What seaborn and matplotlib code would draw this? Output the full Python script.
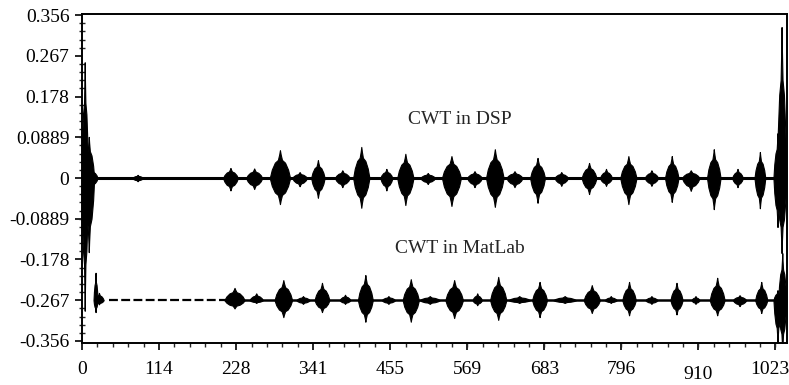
import numpy as np
import pandas as pd
import matplotlib
matplotlib.use('Agg')
import matplotlib.pyplot as plt
import matplotlib.transforms as mtransforms
from matplotlib.ticker import AutoMinorLocator
import seaborn as sns

# CWT computed on the DSP: bursts around the zero line
# (sample index, half width in samples, top value, bottom value)
dsp_center = [4, 10, 15, 82, 219, 254, 292, 321, 348, 384, 412, 449, 477, 510, 545, 579,
              609, 638, 672, 707, 748, 773, 806, 840, 870, 898, 932, 967, 1000, 1026, 1032]
dsp_width = [5, 8, 8, 8, 11, 12, 15, 11, 10, 11, 12, 9, 12, 11, 14, 11,
             13, 12, 11, 10, 11, 9, 12, 10, 10, 13, 10, 8, 8, 6, 7]
dsp_top = [0.253, 0.09, 0.02, 0.007, 0.022, 0.021, 0.061, 0.013, 0.039, 0.017, 0.068, 0.02,
           0.053, 0.011, 0.048, 0.015, 0.063, 0.015, 0.044, 0.013, 0.033, 0.02, 0.048, 0.017,
           0.048, 0.017, 0.063, 0.02, 0.057, 0.098, 0.33]
dsp_bottom = [-0.29, -0.162, -0.02, -0.007, -0.027, -0.024, -0.057, -0.018, -0.043, -0.02, -0.065,
              -0.027, -0.059, -0.013, -0.061, -0.02, -0.063, -0.02, -0.054, -0.017, -0.035, -0.017,
              -0.057, -0.017, -0.052, -0.028, -0.068, -0.02, -0.066, -0.107, -0.164]
dsp_level = 0.0

# CWT computed in MatLab, drawn around -0.267
mat_center = [20, 25, 225, 257, 297, 326, 354, 388, 418, 452, 485, 513, 549, 583, 614, 645,
              675, 712, 752, 780, 807, 840, 877, 905, 937, 970, 1002, 1026, 1033]
mat_width = [3, 7, 15, 10, 13, 10, 11, 8, 11, 10, 12, 15, 13, 7, 12, 16,
             11, 17, 12, 9, 10, 9, 9, 6, 11, 10, 9, 6, 6]
mat_top = [-0.207, -0.251, -0.240, -0.252, -0.223, -0.258, -0.229, -0.255, -0.212, -0.258, -0.221,
           -0.258, -0.223, -0.252, -0.216, -0.258, -0.227, -0.258, -0.234, -0.258, -0.227, -0.258,
           -0.229, -0.258, -0.218, -0.256, -0.227, -0.245, -0.164]
mat_bottom = [-0.293, -0.276, -0.285, -0.273, -0.304, -0.275, -0.293, -0.275, -0.314, -0.275, -0.314,
              -0.275, -0.306, -0.278, -0.310, -0.273, -0.304, -0.273, -0.295, -0.273, -0.300, -0.275,
              -0.298, -0.275, -0.300, -0.280, -0.295, -0.36, -0.38]
mat_level = -0.267

# quiet stretches between the bursts
dsp_quiet = [16, 1040]
mat_quiet_dashed = [40, 212]
mat_quiet = [212, 1040]

x_ticks = [0, 113.67, 227.33, 341, 454.67, 568.33, 682, 795.67, 909.33, 1023]
x_labels = ['0', '114', '228', '341', '455', '569', '683', '796', '910', '1023']
y_ticks = [-0.356, -0.267, -0.178, -0.0889, 0, 0.0889, 0.178, 0.267, 0.356]
y_labels = ['-0.356', '-0.267', '-0.178', '-0.0889', '0', '0.0889', '0.178', '0.267', '0.356']

# spindle outline used for every burst: a wide body with a thin tip
shape_u = np.array([-1, -0.8, -0.5, -0.2, -0.07, 0, 0.07, 0.2, 0.5, 0.8, 1])
shape_h = np.array([0, 0.3, 0.55, 0.65, 0.85, 1, 0.85, 0.65, 0.55, 0.3, 0])

sns.set_style('ticks')
plt.rcParams['font.family'] = ['Liberation Serif', 'DejaVu Serif']
plt.rcParams['axes.unicode_minus'] = False

fig = plt.figure(figsize=(7.89, 3.85), dpi=100)
ax = fig.add_axes([82 / 789, 42 / 385, 705 / 789, 329 / 385])


def draw_bursts(centers, widths, tops, bottoms, level):
    for c, w, t, b in zip(centers, widths, tops, bottoms):
        xs = c + shape_u * w
        ax.fill_between(xs, level + (t - level) * shape_h, level + (b - level) * shape_h,
                        color='black', linewidth=0.8)


draw_bursts(dsp_center, dsp_width, dsp_top, dsp_bottom, dsp_level)
draw_bursts(mat_center, mat_width, mat_top, mat_bottom, mat_level)

sns.lineplot(x=dsp_quiet, y=[dsp_level] * 2, color='black', linewidth=2.2, ax=ax)
sns.lineplot(x=mat_quiet_dashed, y=[mat_level] * 2, color='black', linewidth=1.6, ax=ax)
ax.lines[-1].set_dashes([4, 1.5])
sns.lineplot(x=mat_quiet, y=[mat_level] * 2, color='black', linewidth=1.8, ax=ax)

ax.text(557, 0.127, 'CWT in DSP', ha='center', va='center', fontsize=14)
ax.text(557, -0.153, 'CWT in MatLab', ha='center', va='center', fontsize=14)

ax.set_xlim(0, 1040)
ax.set_ylim(-0.3605, 0.3585)
ax.set_xticks(x_ticks)
ax.set_xticklabels(x_labels)
ax.set_yticks(y_ticks)
ax.set_yticklabels(y_labels)
ax.xaxis.set_minor_locator(AutoMinorLocator(5))
ax.yaxis.set_minor_locator(AutoMinorLocator(5))
ax.tick_params(axis='both', which='major', direction='out', length=5, width=1.2,
               labelsize=14, color='black', labelcolor='black')
ax.tick_params(axis='x', which='major', pad=8)
ax.tick_params(axis='y', which='major', pad=4)
ax.tick_params(axis='x', which='minor', direction='out', length=3, width=1)
ax.tick_params(axis='y', which='minor', direction='inout', length=5, width=1)
for side in ['top', 'right', 'left', 'bottom']:
    ax.spines[side].set_visible(True)
    ax.spines[side].set_color('black')
    ax.spines[side].set_linewidth(1.4)
ax.set_xlabel('')
ax.set_ylabel('')

# the scanned axis prints "910" a little lower and "1023" a little left
labels = ax.get_xticklabels()
labels[8].set_transform(labels[8].get_transform() +
                        mtransforms.ScaledTranslation(0, -5 / 100, fig.dpi_scale_trans))
labels[9].set_transform(labels[9].get_transform() +
                        mtransforms.ScaledTranslation(-6 / 100, 0, fig.dpi_scale_trans))

fig.savefig('out.png', dpi=100, facecolor='white')
